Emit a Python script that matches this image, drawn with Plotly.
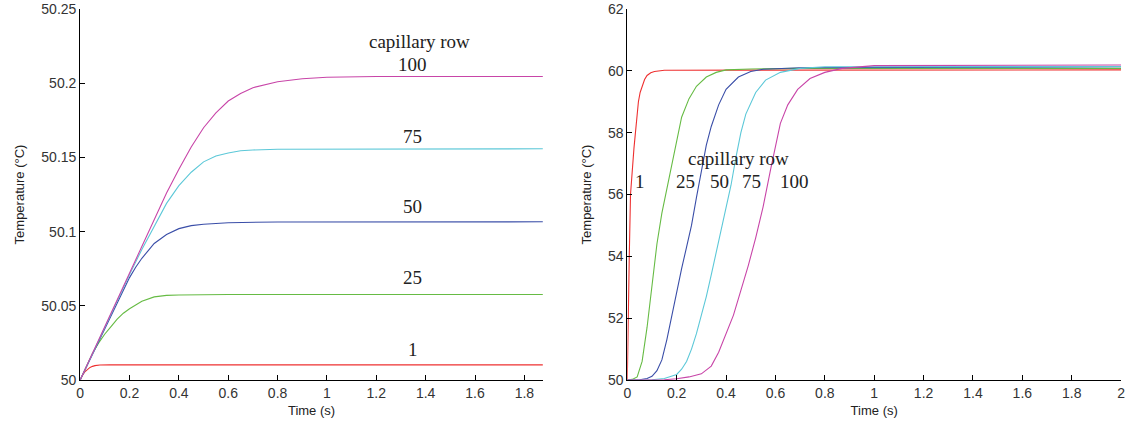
import plotly.graph_objects as go

# ---------------- data ----------------
rows = ["1", "25", "50", "75", "100"]
colors = ["#ee3030", "#66bb44", "#3a4ea8", "#5cc8d8", "#c845a8"]

# Left panel: fine-scale temperature rise
left_t_1 = [0, 0.005, 0.01, 0.02, 0.03, 0.04, 0.05, 0.06, 0.08, 0.12, 1.875]
left_v_1 = [50.0, 50.0018, 50.0033, 50.0057, 50.0073, 50.0085, 50.0092, 50.0097, 50.0101, 50.0102, 50.0102]

left_t_25 = [0, 0.025, 0.05, 0.075, 0.1, 0.125, 0.15, 0.175, 0.2, 0.25, 0.3, 0.35, 0.4, 0.6, 1.875]
left_v_25 = [50.0, 50.009, 50.018, 50.025, 50.031, 50.036, 50.041, 50.045, 50.048, 50.053, 50.056,
             50.057, 50.0573, 50.0576, 50.0576]

left_t_50 = [0, 0.1, 0.15, 0.2, 0.225, 0.25, 0.275, 0.3, 0.35, 0.4, 0.45, 0.5, 0.6, 0.8, 1.875]
left_v_50 = [50.0, 50.035, 50.052, 50.069, 50.076, 50.082, 50.087, 50.092, 50.098, 50.102, 50.104,
             50.105, 50.106, 50.1065, 50.1066]

left_t_75 = [0, 0.1, 0.2, 0.25, 0.3, 0.35, 0.4, 0.45, 0.5, 0.55, 0.6, 0.65, 0.7, 0.8, 1.875]
left_v_75 = [50.0, 50.036, 50.071, 50.088, 50.103, 50.119, 50.131, 50.140, 50.147, 50.151, 50.153,
             50.1545, 50.155, 50.1555, 50.1558]

left_t_100 = [0, 0.1, 0.2, 0.3, 0.35, 0.4, 0.45, 0.5, 0.55, 0.6, 0.65, 0.7, 0.75, 0.8, 0.9, 1.0, 1.2, 1.875]
left_v_100 = [50.0, 50.036, 50.072, 50.108, 50.126, 50.142, 50.157, 50.170, 50.180, 50.188, 50.193,
              50.197, 50.199, 50.201, 50.203, 50.204, 50.2045, 50.2045]

# Right panel: coolant temperature
right_t_1 = [0, 0.003, 0.008, 0.013, 0.018, 0.022, 0.027, 0.033, 0.04, 0.045, 0.052, 0.06, 0.07,
             0.08, 0.095, 0.11, 0.15, 2.0]
right_v_1 = [50.0, 52.0, 54.0, 56.0, 56.6, 57.0, 57.5, 58.0, 58.6, 59.0, 59.3, 59.5, 59.72,
             59.85, 59.94, 59.98, 60.02, 60.03]

right_t_25 = [0, 0.02, 0.04, 0.06, 0.08, 0.1, 0.12, 0.14, 0.16, 0.18, 0.2, 0.22, 0.25, 0.28,
              0.32, 0.36, 0.4, 0.5, 0.7, 2.0]
right_v_25 = [50.0, 50.02, 50.1, 50.6, 51.7, 53.1, 54.4, 55.4, 56.2, 57.0, 57.8, 58.5, 59.1, 59.5,
              59.8, 59.95, 60.03, 60.06, 60.08, 60.08]

right_t_50 = [0, 0.05, 0.08, 0.1, 0.12, 0.14, 0.16, 0.18, 0.2, 0.22, 0.24, 0.26, 0.28, 0.3,
              0.32, 0.34, 0.37, 0.4, 0.45, 0.5, 0.55, 0.7, 2.0]
right_v_50 = [50.0, 50.01, 50.05, 50.12, 50.3, 50.65, 51.3, 52.1, 52.9, 53.6, 54.3, 55.0, 55.9, 56.8,
              57.6, 58.2, 58.9, 59.4, 59.8, 59.98, 60.05, 60.1, 60.13]

right_t_75 = [0, 0.1, 0.15, 0.2, 0.22, 0.24, 0.26, 0.28, 0.3, 0.32, 0.34, 0.36, 0.38, 0.4,
              0.42, 0.44, 0.46, 0.48, 0.52, 0.56, 0.62, 0.7, 0.8, 2.0]
right_v_75 = [50.0, 50.01, 50.05, 50.18, 50.35, 50.6, 51.0, 51.5, 52.1, 52.7, 53.4, 54.1, 54.8, 55.5,
              56.3, 57.2, 58.0, 58.6, 59.3, 59.7, 59.95, 60.08, 60.13, 60.14]

right_t_100 = [0, 0.15, 0.2, 0.25, 0.3, 0.34, 0.37, 0.4, 0.43, 0.46, 0.49, 0.52, 0.55, 0.58,
               0.6, 0.62, 0.65, 0.69, 0.74, 0.8, 0.87, 1.0, 2.0]
right_v_100 = [50.0, 50.01, 50.04, 50.1, 50.2, 50.45, 50.9, 51.5, 52.1, 52.9, 53.7, 54.6, 55.6, 56.8,
               57.6, 58.3, 58.9, 59.4, 59.75, 59.95, 60.08, 60.17, 60.19]

left_series = [(left_t_1, left_v_1), (left_t_25, left_v_25), (left_t_50, left_v_50),
               (left_t_75, left_v_75), (left_t_100, left_v_100)]
right_series = [(right_t_1, right_v_1), (right_t_25, right_v_25), (right_t_50, right_v_50),
                (right_t_75, right_v_75), (right_t_100, right_v_100)]

left_xticks = [0, 0.2, 0.4, 0.6, 0.8, 1, 1.2, 1.4, 1.6, 1.8]
left_yticks = [50, 50.05, 50.1, 50.15, 50.2, 50.25]
left_ytext = ["50", "50.05", "50.1", "50.15", "50.2", "50.25"]
right_xticks = [0, 0.2, 0.4, 0.6, 0.8, 1, 1.2, 1.4, 1.6, 1.8, 2]
right_yticks = [50, 52, 54, 56, 58, 60, 62]

title_label = "capillary row"
x_title = "Time (s)"
y_title = "Temperature (\u00b0C)"

# label anchors (data coords)
left_title_pos = (1.373, 50.2284)
left_label_x = 1.348
left_label_y = [50.0203, 50.0689, 50.1171, 50.1642, 50.2128]
right_title_pos = (0.452, 57.16)
right_label_x = [0.052, 0.237, 0.372, 0.503, 0.678]
right_label_y = 56.42

# ---------------- figure ----------------
W, H = 1141, 425
fig = go.Figure()

for (t, v), c, r in zip(left_series, colors, rows):
    fig.add_trace(go.Scatter(x=t, y=v, mode="lines", line=dict(color=c, width=1.1),
                             xaxis="x", yaxis="y", showlegend=False, name=r))
for (t, v), c, r in zip(right_series, colors, rows):
    fig.add_trace(go.Scatter(x=t, y=v, mode="lines", line=dict(color=c, width=1.1),
                             xaxis="x2", yaxis="y2", showlegend=False, name=r))

tickfont = dict(family="Liberation Sans, Arial", size=14, color="#333333")
titlefont = dict(family="Liberation Sans, Arial", size=13, color="#222222")
axis_common = dict(showline=True, linecolor="black", linewidth=1, ticks="inside", ticklen=5,
                   tickcolor="black", tickwidth=1, showgrid=False, zeroline=False,
                   tickfont=tickfont, mirror=False)

fig.update_layout(
    width=W, height=H, autosize=False,
    margin=dict(l=0, r=0, t=9, b=45),
    paper_bgcolor="white", plot_bgcolor="white",
    xaxis=dict(domain=[76.7 / W, 542.7 / W], range=[0, 1.875], tickvals=left_xticks,
               title=dict(text=x_title, font=titlefont, standoff=6), anchor="y", **axis_common),
    yaxis=dict(domain=[0, 1], range=[50, 50.25], tickvals=left_yticks, ticktext=left_ytext,
               title=dict(text=y_title, font=titlefont, standoff=13), anchor="x", **axis_common),
    xaxis2=dict(domain=[627.7 / W, 1125 / W], range=[0, 2], tickvals=right_xticks,
                title=dict(text=x_title, font=titlefont, standoff=6), anchor="y2", **axis_common),
    yaxis2=dict(domain=[0, 1], range=[50, 62], tickvals=right_yticks,
                title=dict(text=y_title, font=titlefont, standoff=13), anchor="x2", **axis_common),
)

serif = dict(family="Liberation Serif, Times New Roman", size=19, color="#222222")

fig.add_annotation(x=left_title_pos[0], y=left_title_pos[1], xref="x", yref="y", text=title_label,
                   showarrow=False, font=serif, yanchor="middle")
for r, yv in zip(rows, left_label_y):
    fig.add_annotation(x=left_label_x, y=yv, xref="x", yref="y", text=r, showarrow=False,
                       font=serif, yanchor="middle")

fig.add_annotation(x=right_title_pos[0], y=right_title_pos[1], xref="x2", yref="y2", text=title_label,
                   showarrow=False, font=serif, yanchor="middle")
for r, xv in zip(rows, right_label_x):
    fig.add_annotation(x=xv, y=right_label_y, xref="x2", yref="y2", text=r, showarrow=False,
                       font=serif, yanchor="middle")

fig.write_html("out.html")
